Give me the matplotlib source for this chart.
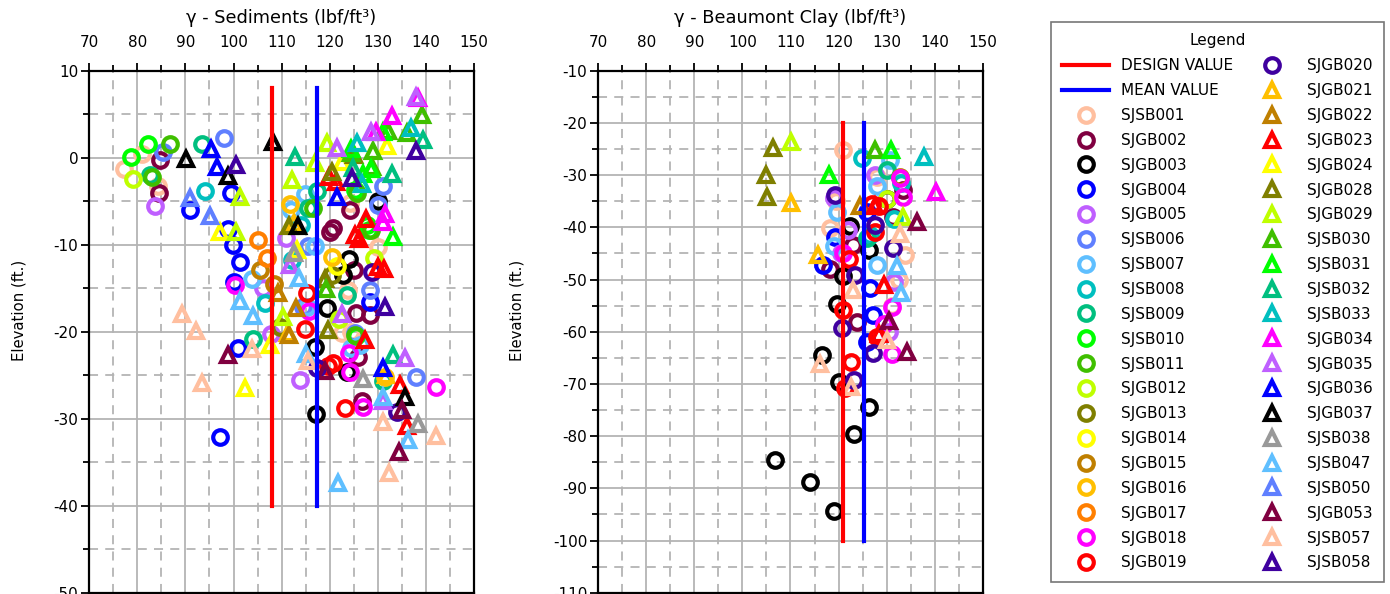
import matplotlib
matplotlib.use("Agg")
import matplotlib.pyplot as plt
from matplotlib.lines import Line2D
from matplotlib.ticker import MultipleLocator

plt.rcParams['font.family'] = ['DejaVu Sans']
plt.rcParams['axes.unicode_minus'] = False

# boring names, colours and marker shapes (legend order)
holes = ["SJSB001", "SJGB002", "SJGB003", "SJGB004", "SJGB005", "SJSB006", "SJSB007",
         "SJSB008", "SJSB009", "SJSB010", "SJSB011", "SJGB012", "SJGB013", "SJGB014",
         "SJGB015", "SJGB016", "SJGB017", "SJGB018", "SJGB019", "SJGB020",
         "SJGB021", "SJGB022", "SJGB023", "SJGB024", "SJGB028", "SJGB029", "SJSB030",
         "SJSB031", "SJSB032", "SJSB033", "SJGB034", "SJGB035", "SJGB036", "SJGB037",
         "SJSB038", "SJSB047", "SJSB050", "SJGB053", "SJSB057", "SJSB058"]
hole_colors = ["#FFBF9F", "#800040", "#000000", "#0000FF", "#BF5FFF", "#5F7FFF", "#5FBFFF",
               "#00BFBF", "#00BF7F", "#00FF00", "#3FBF00", "#BFFF00", "#7F7F00", "#FFFF00",
               "#BF7F00", "#FFBF00", "#FF7F00", "#FF00FF", "#FF0000", "#3F009F",
               "#FFBF00", "#BF7F00", "#FF0000", "#FFFF00", "#7F7F00", "#BFFF00", "#3FBF00",
               "#00FF00", "#00BF7F", "#00BFBF", "#FF00FF", "#BF5FFF", "#0000FF", "#000000",
               "#999999", "#5FBFFF", "#5F7FFF", "#800040", "#FFBF9F", "#3F009F"]
hole_markers = ["o"] * 20 + ["^"] * 20

# unit weight vs elevation, (boring, gamma lbf/ft3, elevation ft)
sed_points = [
    ("SJSB001", 77.2, -1.3), ("SJSB001", 80.9, 0.4), ("SJSB001", 84.3, -3.3), ("SJSB001", 124.2, -5.2),
    ("SJSB001", 130.1, -10.3), ("SJSB001", 123.8, -15.2), ("SJSB001", 124.5, -20.0), ("SJSB001", 122.6, -20.2),
    ("SJGB002", 84.7, -0.3), ("SJGB002", 84.5, -4.1), ("SJGB002", 124.2, -6.0), ("SJGB002", 120.0, -8.5),
    ("SJGB002", 125.0, -12.9), ("SJGB002", 128.4, -18.1), ("SJGB002", 125.9, -22.9), ("SJGB002", 126.7, -28.0),
    ("SJGB002", 125.5, -17.9), ("SJGB002", 120.7, -8.1),
    ("SJGB003", 130.0, -5.0), ("SJGB003", 124.1, -11.6), ("SJGB003", 122.8, -13.5), ("SJGB003", 119.5, -17.3),
    ("SJGB003", 117.0, -21.7), ("SJGB003", 123.5, -24.6), ("SJGB003", 117.1, -29.4),
    ("SJGB004", 91.0, -6.0), ("SJGB004", 99.4, -4.0), ("SJGB004", 98.8, -8.2), ("SJGB004", 99.9, -10.0),
    ("SJGB004", 101.3, -12.0), ("SJGB004", 100.1, -14.3), ("SJGB004", 101.0, -21.9), ("SJGB004", 97.2, -32.1),
    ("SJGB004", 128.4, -16.6),
    ("SJGB005", 83.7, -5.6), ("SJGB005", 110.9, -9.2), ("SJGB005", 106.2, -15.0), ("SJGB005", 107.7, -20.3),
    ("SJGB005", 113.8, -25.5),
    ("SJSB006", 85.3, 0.7), ("SJSB006", 98.0, 2.3), ("SJSB006", 131.1, -3.3), ("SJSB006", 130.1, -5.4),
    ("SJSB006", 115.5, -10.2), ("SJSB006", 114.5, -17.1), ("SJSB006", 128.4, -15.2), ("SJSB006", 125.3, -20.1),
    ("SJSB006", 137.9, -25.2),
    ("SJSB007", 114.8, -4.2), ("SJSB007", 112.0, -6.0), ("SJSB007", 117.0, -10.2), ("SJSB007", 103.8, -13.9),
    ("SJSB007", 115.2, -17.1), ("SJSB007", 124.4, -21.9), ("SJSB007", 126.3, -21.5),
    ("SJSB008", 94.1, -3.8), ("SJSB008", 114.0, -7.7), ("SJSB008", 112.1, -11.8), ("SJSB008", 106.5, -16.7),
    ("SJSB009", 93.4, 1.6), ("SJSB009", 82.6, -2.0), ("SJSB009", 115.5, -5.8), ("SJSB009", 104.1, -20.8),
    ("SJSB009", 131.1, -25.7), ("SJSB009", 123.6, -15.8), ("SJSB009", 117.3, -3.8),
    ("SJSB010", 78.6, 0.1), ("SJSB010", 82.3, 1.6), ("SJSB010", 127.7, -7.7), ("SJSB010", 128.1, -8.3),
    ("SJSB010", 125.5, -20.5), ("SJSB010", 125.2, -3.7),
    ("SJSB011", 86.8, 1.6), ("SJSB011", 83.0, -2.2), ("SJSB011", 125.6, -4.1), ("SJSB011", 128.6, -8.3),
    ("SJSB011", 125.3, -20.4), ("SJSB011", 116.5, -5.8),
    ("SJGB012", 79.0, -2.4), ("SJGB012", 129.3, -11.5), ("SJGB012", 122.0, -18.5),
    ("SJGB013", 109.7, -19.5), ("SJGB013", 120.5, -13.5),
    ("SJGB014", 121.5, -12.5),
    ("SJGB015", 105.5, -12.9), ("SJGB015", 108.5, -14.5),
    ("SJGB016", 111.7, -5.3), ("SJGB016", 120.4, -11.4), ("SJGB016", 131.5, -25.2),
    ("SJGB017", 105.0, -9.5), ("SJGB017", 106.9, -11.5),
    ("SJGB018", 115.6, -17.6), ("SJGB018", 124.0, -22.4), ("SJGB018", 142.2, -26.4), ("SJGB018", 127.0, -28.6),
    ("SJGB018", 124.3, -24.6), ("SJGB018", 100.4, -14.6),
    ("SJGB019", 115.2, -15.6), ("SJGB019", 114.9, -19.7), ("SJGB019", 120.7, -23.6), ("SJGB019", 123.2, -28.8),
    ("SJGB019", 119.6, -23.9),
    ("SJGB020", 117.3, -24.2), ("SJGB020", 133.9, -29.2), ("SJGB020", 128.7, -13.1),
    ("SJGB021", 111.4, -20.2), ("SJGB021", 131.7, -25.0), ("SJGB021", 112.5, -7.5),
    ("SJGB022", 109.3, -15.6), ("SJGB022", 112.9, -17.3), ("SJGB022", 111.6, -20.4),
    ("SJGB023", 119.9, -2.2), ("SJGB023", 121.3, -2.8), ("SJGB023", 127.5, -7.0), ("SJGB023", 126.0, -9.3),
    ("SJGB023", 125.2, -8.9), ("SJGB023", 131.2, -12.8), ("SJGB023", 127.3, -20.9), ("SJGB023", 134.7, -26.1),
    ("SJGB023", 136.1, -30.8), ("SJGB023", 130.0, -12.6),
    ("SJGB024", 97.2, -8.5), ("SJGB024", 107.6, -21.5), ("SJGB024", 102.4, -26.5), ("SJGB024", 122.5, -0.5),
    ("SJGB024", 131.9, 1.3), ("SJGB024", 113.2, -10.6),
    ("SJGB028", 111.5, -7.8), ("SJGB028", 119.0, -13.9), ("SJGB028", 119.7, -19.8), ("SJGB028", 125.0, 0.3),
    ("SJGB028", 120.4, -1.6),
    ("SJGB029", 101.3, -4.5), ("SJGB029", 112.1, -2.6), ("SJGB029", 116.9, -0.6), ("SJGB029", 119.4, 1.7),
    ("SJGB029", 110.2, -18.3), ("SJGB029", 100.5, -8.5),
    ("SJSB030", 129.0, 0.8), ("SJSB030", 132.2, 3.1), ("SJSB030", 136.0, 2.8), ("SJSB030", 139.1, 4.9),
    ("SJSB030", 128.7, -1.1), ("SJSB030", 119.3, -15.1), ("SJSB030", 124.5, 0.5),
    ("SJSB031", 128.5, -1.3), ("SJSB031", 126.9, -1.9), ("SJSB031", 133.2, -9.1), ("SJSB031", 124.5, 1.0),
    ("SJSB031", 131.0, 2.9),
    ("SJSB032", 112.8, 0.1), ("SJSB032", 124.9, -1.2), ("SJSB032", 132.9, -1.9), ("SJSB032", 139.5, 2.0),
    ("SJSB032", 133.2, -22.7),
    ("SJSB033", 125.6, 1.7), ("SJSB033", 137.0, 3.4), ("SJSB033", 126.8, -3.0),
    ("SJGB034", 132.9, 4.8), ("SJGB034", 138.4, 6.9), ("SJGB034", 129.6, 3.0), ("SJGB034", 131.0, -7.4),
    ("SJGB034", 131.4, -6.5),
    ("SJGB035", 128.6, 2.9), ("SJGB035", 121.6, 1.1), ("SJGB035", 111.7, -12.3), ("SJGB035", 122.6, -18.0),
    ("SJGB035", 135.6, -23.0), ("SJGB035", 131.1, -28.0), ("SJGB035", 138.0, 7.0),
    ("SJGB036", 95.4, 1.0), ("SJGB036", 96.6, -1.1), ("SJGB036", 131.1, -24.2), ("SJGB036", 121.5, -4.5),
    ("SJGB037", 90.1, -0.2), ("SJGB037", 98.8, -2.1), ("SJGB037", 108.3, 1.8), ("SJGB037", 113.5, -7.8),
    ("SJGB037", 135.6, -27.5),
    ("SJSB038", 127.0, -25.4), ("SJSB038", 138.4, -30.6), ("SJSB038", 112.5, -11.0),
    ("SJSB047", 113.6, -13.8), ("SJSB047", 115.1, -22.6), ("SJSB047", 104.0, -18.2), ("SJSB047", 131.1, -27.5),
    ("SJSB047", 136.3, -32.4), ("SJSB047", 121.8, -37.4), ("SJSB047", 101.3, -16.5),
    ("SJSB050", 91.0, -4.6), ("SJSB050", 95.2, -6.7),
    ("SJGB053", 98.9, -22.7), ("SJGB053", 119.0, -24.5), ("SJGB053", 135.0, -29.0), ("SJGB053", 134.4, -33.8),
    ("SJSB057", 89.2, -18.0), ("SJSB057", 92.3, -19.9), ("SJSB057", 93.4, -25.9), ("SJSB057", 103.8, -22.0),
    ("SJSB057", 115.5, -23.4), ("SJSB057", 131.1, -30.4), ("SJSB057", 142.2, -32.0), ("SJSB057", 132.4, -36.2),
    ("SJSB058", 100.6, -0.8), ("SJSB058", 138.0, 0.8), ("SJSB058", 124.6, -2.3), ("SJSB058", 131.6, -17.1),
]

clay_points = [
    ("SJSB001", 121.0, -25.2), ("SJSB001", 128.0, -30.3), ("SJSB001", 119.5, -34.9), ("SJSB001", 118.2, -40.2),
    ("SJSB001", 133.8, -45.3), ("SJSB001", 132.5, -50.1), ("SJSB001", 131.2, -55.0),
    ("SJGB002", 133.5, -32.9), ("SJGB002", 131.4, -38.0), ("SJGB002", 123.1, -43.4), ("SJGB002", 118.2, -48.0),
    ("SJGB002", 123.8, -58.1),
    ("SJGB003", 130.0, -34.6), ("SJGB003", 122.4, -39.8), ("SJGB003", 126.4, -44.3), ("SJGB003", 121.0, -49.3),
    ("SJGB003", 119.6, -54.6), ("SJGB003", 116.5, -64.5), ("SJGB003", 120.0, -69.6), ("SJGB003", 126.4, -74.4),
    ("SJGB003", 123.3, -79.5), ("SJGB003", 106.8, -84.5), ("SJGB003", 114.1, -88.7), ("SJGB003", 119.1, -94.3),
    ("SJGB004", 125.9, -37.0), ("SJGB004", 119.3, -41.9), ("SJGB004", 116.8, -47.2), ("SJGB004", 126.6, -51.7),
    ("SJGB004", 127.2, -56.8), ("SJGB004", 125.9, -61.9),
    ("SJGB005", 119.0, -34.4), ("SJGB005", 122.0, -40.5), ("SJGB005", 120.5, -45.0), ("SJGB005", 130.5, -60.0),
    ("SJGB005", 131.5, -50.5), ("SJGB005", 127.5, -30.0),
    ("SJSB007", 130.7, -27.1), ("SJSB007", 119.6, -37.1), ("SJSB007", 127.9, -47.2), ("SJSB007", 128.0, -32.0),
    ("SJSB007", 119.0, -43.5),
    ("SJSB008", 124.8, -26.8), ("SJSB008", 131.5, -38.5), ("SJSB008", 126.5, -41.5), ("SJSB008", 133.0, -31.5),
    ("SJSB009", 130.0, -29.0), ("SJSB009", 126.0, -42.0),
    ("SJGB012", 130.0, -34.5),
    ("SJGB015", 132.8, -30.3),
    ("SJGB018", 132.8, -30.6), ("SJGB018", 133.5, -34.1), ("SJGB018", 121.0, -45.0), ("SJGB018", 131.2, -55.2),
    ("SJGB018", 129.5, -58.5), ("SJGB018", 131.2, -64.2),
    ("SJGB019", 127.6, -40.8), ("SJGB019", 122.2, -46.0), ("SJGB019", 121.0, -55.8), ("SJGB019", 128.0, -61.0),
    ("SJGB019", 122.5, -65.7), ("SJGB019", 121.3, -70.8), ("SJGB019", 128.5, -36.0), ("SJGB019", 127.0, -35.5),
    ("SJGB020", 119.3, -33.8), ("SJGB020", 131.3, -44.0), ("SJGB020", 123.4, -49.2), ("SJGB020", 120.7, -59.3),
    ("SJGB020", 127.2, -64.1), ("SJGB020", 123.3, -69.2), ("SJGB020", 127.5, -39.5),
    ("SJGB021", 110.1, -35.3), ("SJGB021", 115.8, -45.3),
    ("SJGB022", 124.5, -36.0),
    ("SJGB023", 127.5, -36.0), ("SJGB023", 129.5, -51.0), ("SJGB023", 128.5, -60.5),
    ("SJGB028", 106.4, -24.9), ("SJGB028", 104.9, -30.0), ("SJGB028", 105.1, -34.1),
    ("SJGB029", 110.1, -23.6), ("SJGB029", 133.4, -38.0),
    ("SJSB030", 127.6, -25.2),
    ("SJSB031", 131.0, -25.2), ("SJSB031", 118.1, -30.0),
    ("SJSB033", 137.7, -26.5),
    ("SJGB034", 140.3, -33.2),
    ("SJGB053", 136.3, -38.9), ("SJGB053", 134.2, -63.8), ("SJGB053", 130.5, -58.0),
    ("SJSB047", 132.2, -47.5), ("SJSB047", 133.0, -52.5),
    ("SJSB057", 132.8, -41.2), ("SJSB057", 116.2, -66.1), ("SJSB057", 122.5, -70.5), ("SJSB057", 123.0, -52.0),
    ("SJSB057", 130.0, -61.5),
]

# design / mean lines: (value, top elevation, bottom elevation)
sed_design = (107.9, 8, -40)
sed_mean = (117.3, 8, -40)
clay_design = (121.0, -20, -100)
clay_mean = (125.3, -20, -100)

MS = {"o": 10.5, "^": 9.5}
MEW = 3.0


def draw_panel(ax, points, design, mean, ylim, title):
    for name, color, marker in zip(holes, hole_colors, hole_markers):
        xs = [p[1] for p in points if p[0] == name]
        ys = [p[2] for p in points if p[0] == name]
        if xs:
            ax.plot(xs, ys, linestyle="none", marker=marker, ms=MS[marker], mew=MEW,
                    mfc="none", mec=color, zorder=3, clip_on=False)
    ax.plot([design[0]] * 2, design[1:], color="#FF0000", lw=3, zorder=4)
    ax.plot([mean[0]] * 2, mean[1:], color="#0000FF", lw=3, zorder=4)

    ax.set_xlim(70, 150)
    ax.set_ylim(*ylim)
    ax.xaxis.tick_top()
    ax.xaxis.set_label_position("top")
    ax.xaxis.set_major_locator(MultipleLocator(10))
    ax.xaxis.set_minor_locator(MultipleLocator(5))
    ax.yaxis.set_major_locator(MultipleLocator(10))
    ax.yaxis.set_minor_locator(MultipleLocator(5))
    ax.tick_params(which="both", direction="out", width=1.3, labelsize=11, colors="black")
    ax.tick_params(which="major", length=6)
    ax.tick_params(which="minor", length=4)
    ax.tick_params(axis="x", pad=9)
    ax.tick_params(axis="y", pad=2)
    ax.grid(which="major", color="#b4b4b4", lw=1.3, ls="-", zorder=0)
    ax.grid(which="minor", color="#b4b4b4", lw=1.3, ls=(0, (5, 4)), zorder=0)
    ax.set_axisbelow(True)
    for s in ax.spines.values():
        s.set_color("black")
        s.set_linewidth(1.6)
    ax.set_xlabel(title, fontsize=12.8, labelpad=8.5)
    ax.set_ylabel("Elevation (ft.)", fontsize=10.7)


fig = plt.figure(figsize=(13.9, 5.94), dpi=100)
ax1 = fig.add_axes([0.0642, 0.002, 0.2768, 0.879])
ax2 = fig.add_axes([0.4304, 0.002, 0.2766, 0.879])

draw_panel(ax1, sed_points, sed_design, sed_mean, (-50, 10), "γ - Sediments (lbf/ft³)")
draw_panel(ax2, clay_points, clay_design, clay_mean, (-110, -10), "γ - Beaumont Clay (lbf/ft³)")
ax1.yaxis.set_label_coords(-0.162, 0.54)
ax2.yaxis.set_label_coords(-0.192, 0.54)

handles = [Line2D([], [], color="#FF0000", lw=3, label="DESIGN VALUE"),
           Line2D([], [], color="#0000FF", lw=3, label="MEAN VALUE")]
for name, color, marker in zip(holes, hole_colors, hole_markers):
    handles.append(Line2D([], [], linestyle="none", marker=marker, ms=MS[marker], mew=MEW,
                          mfc="none", mec=color, label=name))

leg = fig.legend(handles=handles, ncol=2, loc="upper left", bbox_to_anchor=(0.7561, 0.963),
                 borderaxespad=0, title="Legend", frameon=True, fancybox=False,
                 edgecolor="#555555", handlelength=3.07, handletextpad=0.77,
                 columnspacing=1.0, labelspacing=0.645, borderpad=0.75,
                 fontsize=11, title_fontsize=11)
leg.get_frame().set_linewidth(1.2)

fig.savefig("out.png", dpi=100)
